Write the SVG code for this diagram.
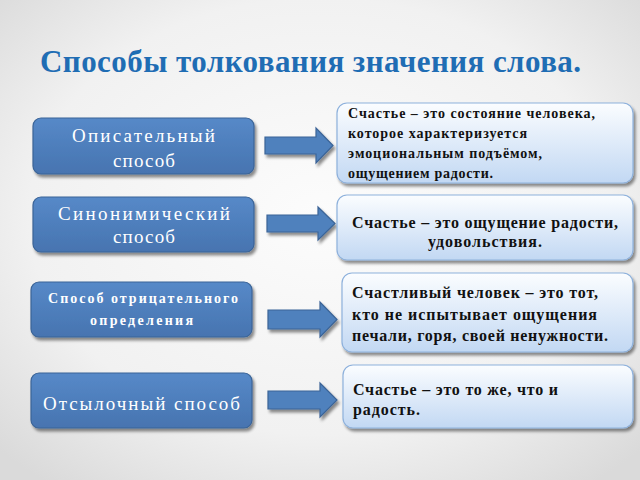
<svg xmlns="http://www.w3.org/2000/svg" width="640" height="480" viewBox="0 0 640 480">
<defs>
<radialGradient id="bg" cx="50%" cy="45%" r="70%">
<stop offset="0" stop-color="#fcfcfc"/>
<stop offset="0.65" stop-color="#f1f1f1"/>
<stop offset="1" stop-color="#dadada"/>
</radialGradient>
<linearGradient id="lb" x1="0" y1="0" x2="0" y2="1">
<stop offset="0" stop-color="#5689c8"/>
<stop offset="1" stop-color="#4774b0"/>
</linearGradient>
<linearGradient id="rb" x1="0" y1="0" x2="0" y2="1">
<stop offset="0" stop-color="#fbfdff"/>
<stop offset="1" stop-color="#c2d8f3"/>
</linearGradient>
<filter id="sh" x="-10%" y="-10%" width="125%" height="135%">
<feGaussianBlur in="SourceAlpha" stdDeviation="1.5"/>
<feOffset dx="2" dy="2.5" result="o"/>
<feComponentTransfer><feFuncA type="linear" slope="0.45"/></feComponentTransfer>
<feMerge><feMergeNode/><feMergeNode in="SourceGraphic"/></feMerge>
</filter>
</defs>
<style>
.lbox{fill:url(#lb);stroke:#3b6497;stroke-width:1.2;filter:url(#sh)}
.rbox{fill:url(#rb);stroke:#8eb1dc;stroke-width:1.2;filter:url(#sh)}
.arr{fill:#4f81bd;stroke:#3b6497;stroke-width:1.2;filter:url(#sh)}
.lt{font-family:"Liberation Serif","Times New Roman",serif;fill:#ffffff}
.rt{font-family:"Liberation Serif","Times New Roman",serif;fill:#111111;font-weight:bold}
.title{font-family:"Liberation Serif","Times New Roman",serif;font-weight:bold;font-size:31px;fill:#1f6db4}
</style>
<rect width="640" height="480" fill="url(#bg)"/>
<text class="title" x="40" y="72" textLength="541">Способы толкования значения слова.</text>

<g id="connectors">
<path class="arr" d="M265,137 H316 V128 L333,145.5 L316,163 V154 H265 Z"/>
<path class="arr" d="M267,215 H318 V207 L335,223.5 L318,240 V232 H267 Z"/>
<path class="arr" d="M268,310 H320 V302 L337,319.5 L320,337 V329 H268 Z"/>
<path class="arr" d="M268,391 H320 V383 L337,400 L320,417 V409 H268 Z"/>
</g>

<g id="n1"><rect class="lbox" x="33" y="118" width="221" height="56" rx="8"/>
<text class="lt" font-size="19" x="72" y="142" textLength="143">Описательный</text>
<text class="lt" font-size="19" x="113" y="167" textLength="62">способ</text></g>
<g id="n2"><rect class="lbox" x="33" y="197" width="221" height="55" rx="8"/>
<text class="lt" font-size="19" x="58" y="220" textLength="172">Синонимический</text>
<text class="lt" font-size="19" x="113" y="243" textLength="62">способ</text></g>
<g id="n3"><rect class="lbox" x="31" y="282" width="221" height="55" rx="8"/>
<text class="lt" font-size="14" font-weight="bold" x="48" y="303" textLength="190">Способ отрицательного</text>
<text class="lt" font-size="14" font-weight="bold" x="90" y="325" textLength="103">определения</text></g>
<g id="n4"><rect class="lbox" x="31" y="373" width="221" height="55" rx="8"/>
<text class="lt" font-size="19" x="43" y="410" textLength="197">Отсылочный способ</text></g>

<g id="r1"><rect class="rbox" x="337" y="103" width="296" height="80" rx="10"/>
<text class="rt" font-size="14" x="348" y="118" textLength="247">Счастье – это состояние человека,</text>
<text class="rt" font-size="14" x="348" y="138" textLength="179">которое характеризуется</text>
<text class="rt" font-size="14" x="348" y="158" textLength="194">эмоциональным подъёмом,</text>
<text class="rt" font-size="14" x="348" y="178" textLength="145">ощущением радости.</text></g>
<g id="r2"><rect class="rbox" x="337" y="195" width="296" height="65" rx="10"/>
<text class="rt" font-size="16" x="352" y="228" textLength="266">Счастье – это ощущение радости,</text>
<text class="rt" font-size="16" x="428" y="247" textLength="114">удовольствия.</text></g>
<g id="r3"><rect class="rbox" x="342" y="273" width="291" height="79" rx="10"/>
<text class="rt" font-size="16" font-weight="normal" x="352" y="298" textLength="246">Счастливый человек – это тот,</text>
<text class="rt" font-size="16" font-weight="normal" x="352" y="320" textLength="245">кто не испытывает ощущения</text>
<text class="rt" font-size="16" font-weight="normal" x="352" y="341" textLength="256">печали, горя, своей ненужности.</text></g>
<g id="r4"><rect class="rbox" x="343" y="365" width="290" height="63" rx="10"/>
<text class="rt" font-size="16" x="353" y="395" textLength="205">Счастье – это то же, что и</text>
<text class="rt" font-size="16" x="353" y="415" textLength="67">радость.</text></g>
</svg>
